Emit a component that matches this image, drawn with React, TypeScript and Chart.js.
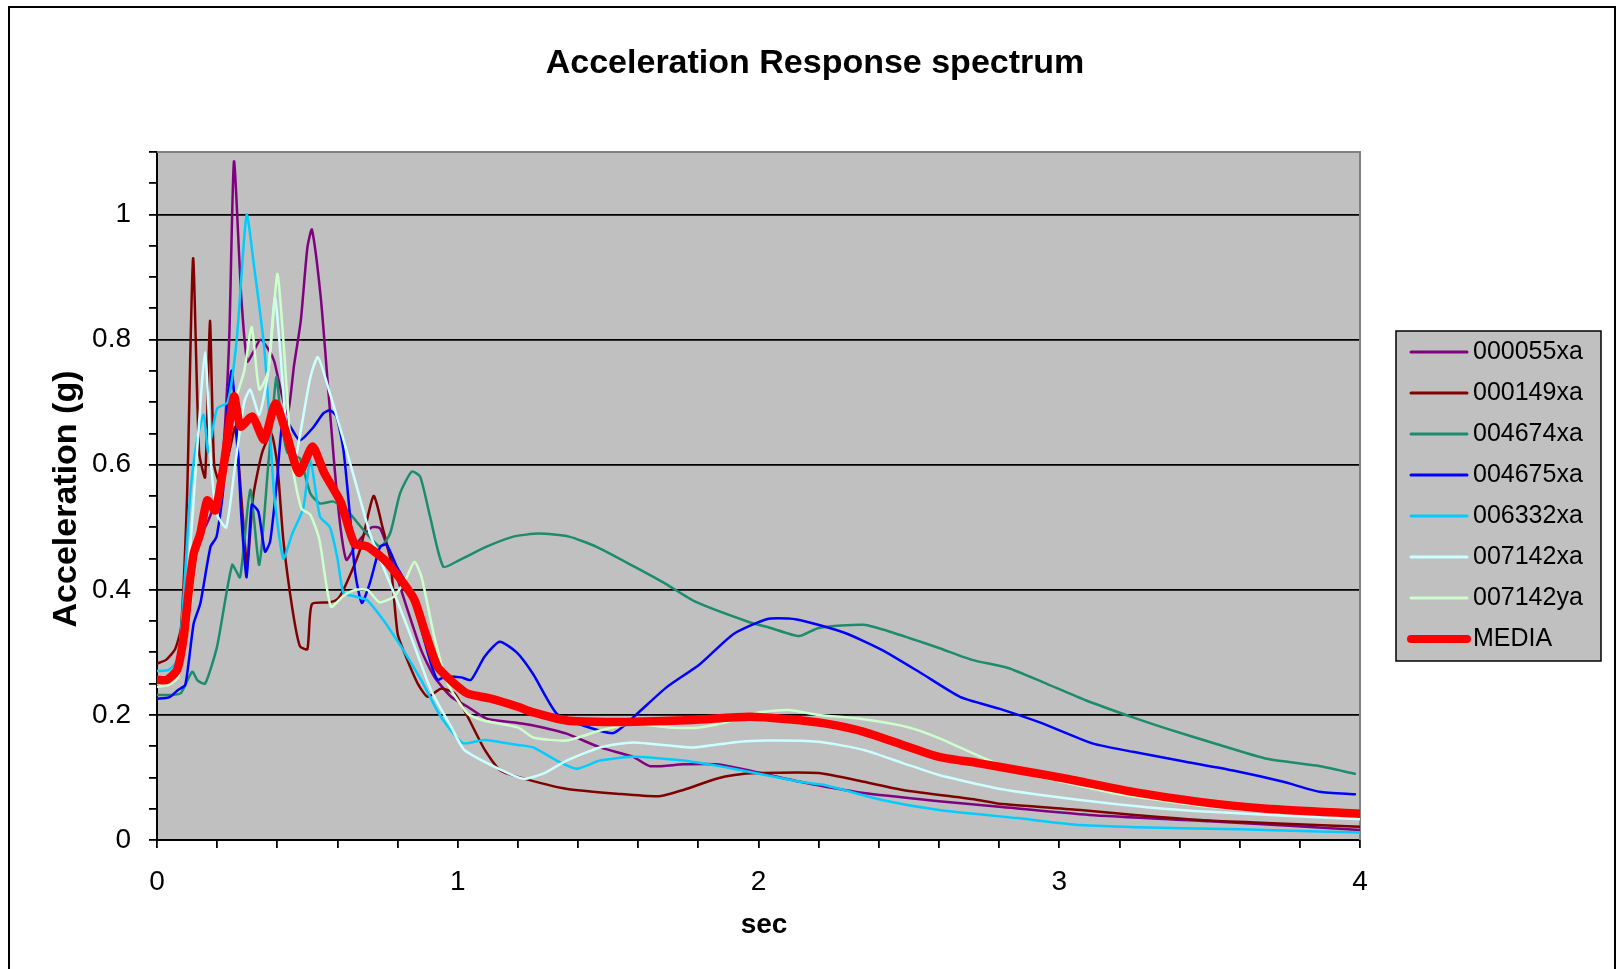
import { useEffect, useRef } from "react";
import { Chart, registerables } from "chart.js";

Chart.register(...registerables);

// Spectral acceleration (g) against period (s) for each record, plus the mean ("MEDIA").
const s000055xa: [number, number][] = [
  [0, 0.255], [0.04, 0.26], [0.07, 0.28], [0.1, 0.38], [0.13, 0.47], [0.17, 0.51], [0.2, 0.55],
  [0.22, 0.62], [0.24, 0.8], [0.256, 1.085], [0.28, 0.87], [0.3, 0.765], [0.32, 0.78], [0.344, 0.8],
  [0.37, 0.785], [0.39, 0.765], [0.433, 0.68], [0.456, 0.76], [0.478, 0.83], [0.5, 0.947],
  [0.515, 0.976], [0.544, 0.87], [0.567, 0.735], [0.589, 0.603], [0.61, 0.5], [0.63, 0.448],
  [0.664, 0.474], [0.714, 0.5], [0.742, 0.498], [0.775, 0.455], [0.833, 0.368], [0.878, 0.304],
  [0.922, 0.261], [0.978, 0.229], [1.033, 0.213], [1.096, 0.194], [1.2, 0.187], [1.251, 0.183],
  [1.362, 0.17], [1.473, 0.148], [1.583, 0.133], [1.639, 0.118], [1.75, 0.121], [1.861, 0.121],
  [1.97, 0.111], [2.138, 0.093], [2.35, 0.075], [2.6, 0.062], [2.8, 0.053], [3.1, 0.04],
  [3.5, 0.03], [4.0, 0.016],
];

const s000149xa: [number, number][] = [
  [0, 0.282], [0.03, 0.288], [0.06, 0.305], [0.08, 0.34], [0.1, 0.55], [0.12, 0.93], [0.14, 0.62],
  [0.16, 0.58], [0.176, 0.83], [0.19, 0.6], [0.21, 0.57], [0.24, 0.62], [0.26, 0.66], [0.28, 0.55],
  [0.3, 0.44], [0.32, 0.55], [0.35, 0.62], [0.38, 0.65], [0.4, 0.6], [0.42, 0.48], [0.45, 0.37],
  [0.475, 0.31], [0.5, 0.305], [0.515, 0.377], [0.575, 0.38], [0.6, 0.385], [0.62, 0.4],
  [0.675, 0.464], [0.72, 0.55], [0.75, 0.5], [0.775, 0.45], [0.8, 0.33], [0.822, 0.3],
  [0.867, 0.25], [0.9, 0.229], [0.944, 0.242], [0.99, 0.234], [1.033, 0.197], [1.09, 0.144],
  [1.14, 0.112], [1.2, 0.101], [1.36, 0.082], [1.53, 0.074], [1.67, 0.07], [1.75, 0.08],
  [1.86, 0.098], [1.92, 0.104], [2.0, 0.107], [2.2, 0.107], [2.35, 0.093], [2.48, 0.08],
  [2.73, 0.064], [2.8, 0.058], [3.07, 0.048], [3.25, 0.04], [3.5, 0.031], [3.75, 0.026], [4.0, 0.021],
];

const s004674xa: [number, number][] = [
  [0, 0.232], [0.05, 0.232], [0.08, 0.235], [0.117, 0.269], [0.135, 0.255], [0.16, 0.25],
  [0.2, 0.31], [0.25, 0.44], [0.276, 0.42], [0.31, 0.56], [0.34, 0.44], [0.37, 0.6], [0.397, 0.74],
  [0.411, 0.68], [0.433, 0.62], [0.475, 0.61], [0.51, 0.554], [0.542, 0.538], [0.586, 0.541],
  [0.63, 0.528], [0.686, 0.496], [0.742, 0.469], [0.775, 0.49], [0.808, 0.554], [0.847, 0.589],
  [0.875, 0.581], [0.908, 0.517], [0.952, 0.437], [1.007, 0.448], [1.096, 0.469], [1.185, 0.485],
  [1.27, 0.49], [1.37, 0.485], [1.46, 0.469], [1.587, 0.437], [1.69, 0.41], [1.79, 0.381],
  [1.965, 0.349], [2.04, 0.339], [2.135, 0.326], [2.2, 0.339], [2.35, 0.344], [2.45, 0.331],
  [2.6, 0.307], [2.71, 0.288], [2.83, 0.275], [2.947, 0.252], [3.09, 0.223], [3.245, 0.196],
  [3.357, 0.178], [3.52, 0.154], [3.69, 0.13], [3.855, 0.119], [3.983, 0.106],
];

const s004675xa: [number, number][] = [
  [0, 0.226], [0.04, 0.228], [0.07, 0.24], [0.094, 0.248], [0.122, 0.346], [0.144, 0.378],
  [0.178, 0.469], [0.198, 0.485], [0.22, 0.56], [0.235, 0.7], [0.248, 0.75], [0.265, 0.656],
  [0.28, 0.52], [0.298, 0.42], [0.315, 0.536], [0.337, 0.525], [0.359, 0.461], [0.376, 0.477],
  [0.398, 0.57], [0.42, 0.68], [0.445, 0.66], [0.475, 0.639], [0.52, 0.66], [0.553, 0.682],
  [0.575, 0.687], [0.597, 0.677], [0.62, 0.623], [0.642, 0.517], [0.659, 0.427], [0.681, 0.379],
  [0.708, 0.411], [0.742, 0.469], [0.764, 0.472], [0.797, 0.437], [0.841, 0.4], [0.867, 0.357],
  [0.911, 0.282], [0.933, 0.256], [0.956, 0.261], [1.011, 0.26], [1.044, 0.256], [1.089, 0.293],
  [1.139, 0.317], [1.196, 0.3], [1.251, 0.265], [1.329, 0.202], [1.417, 0.183], [1.517, 0.171],
  [1.583, 0.196], [1.694, 0.244], [1.805, 0.281], [1.916, 0.329], [2.027, 0.353], [2.1, 0.354],
  [2.16, 0.349], [2.288, 0.331], [2.41, 0.304], [2.54, 0.267], [2.67, 0.229], [2.8, 0.21],
  [2.935, 0.188], [3.113, 0.154], [3.245, 0.141], [3.42, 0.125], [3.578, 0.111], [3.745, 0.093],
  [3.866, 0.077], [3.983, 0.073],
];

const s006332xa: [number, number][] = [
  [0, 0.27], [0.04, 0.272], [0.07, 0.29], [0.09, 0.4], [0.11, 0.55], [0.13, 0.63], [0.155, 0.68],
  [0.17, 0.62], [0.183, 0.65], [0.2, 0.69], [0.235, 0.7], [0.265, 0.8], [0.298, 1.0], [0.322, 0.92],
  [0.356, 0.79], [0.37, 0.7], [0.39, 0.55], [0.42, 0.45], [0.45, 0.49], [0.486, 0.53],
  [0.51, 0.607], [0.542, 0.517], [0.575, 0.5], [0.6, 0.45], [0.62, 0.395], [0.653, 0.39],
  [0.697, 0.384], [0.752, 0.352], [0.797, 0.32], [0.811, 0.31], [0.878, 0.256], [0.944, 0.197],
  [1.017, 0.155], [1.089, 0.16], [1.2, 0.152], [1.251, 0.148], [1.329, 0.127], [1.395, 0.114],
  [1.473, 0.127], [1.583, 0.133], [1.75, 0.127], [1.916, 0.114], [2.138, 0.093], [2.225, 0.087],
  [2.41, 0.064], [2.6, 0.048], [2.86, 0.035], [3.07, 0.024], [3.3, 0.02], [3.6, 0.017], [4.0, 0.012],
];

const s007142xa: [number, number][] = [
  [0, 0.25], [0.04, 0.252], [0.07, 0.27], [0.1, 0.4], [0.13, 0.6], [0.16, 0.78], [0.18, 0.6],
  [0.2, 0.52], [0.23, 0.5], [0.26, 0.6], [0.29, 0.7], [0.31, 0.72], [0.34, 0.68], [0.37, 0.75],
  [0.392, 0.868], [0.41, 0.78], [0.43, 0.66], [0.455, 0.6], [0.48, 0.66], [0.51, 0.74],
  [0.535, 0.772], [0.575, 0.714], [0.62, 0.64], [0.664, 0.565], [0.708, 0.49], [0.752, 0.437],
  [0.797, 0.384], [0.841, 0.33], [0.911, 0.24], [0.978, 0.181], [1.022, 0.144], [1.144, 0.112],
  [1.218, 0.098], [1.284, 0.106], [1.362, 0.127], [1.473, 0.148], [1.583, 0.156], [1.783, 0.148],
  [1.916, 0.156], [2.027, 0.159], [2.2, 0.157], [2.35, 0.144], [2.48, 0.123], [2.6, 0.104],
  [2.8, 0.082], [3.07, 0.064], [3.3, 0.052], [3.5, 0.045], [4.0, 0.033],
];

const s007142ya: [number, number][] = [
  [0, 0.245], [0.04, 0.248], [0.07, 0.26], [0.1, 0.33], [0.13, 0.45], [0.16, 0.52], [0.2, 0.55],
  [0.23, 0.6], [0.26, 0.7], [0.29, 0.75], [0.315, 0.82], [0.34, 0.72], [0.37, 0.75], [0.4, 0.905],
  [0.42, 0.8], [0.45, 0.6], [0.48, 0.53], [0.51, 0.52], [0.54, 0.48], [0.578, 0.373], [0.62, 0.39],
  [0.66, 0.4], [0.7, 0.4], [0.74, 0.38], [0.79, 0.39], [0.83, 0.42], [0.856, 0.445], [0.88, 0.42],
  [0.922, 0.325], [0.967, 0.25], [1.033, 0.202], [1.085, 0.191], [1.2, 0.18], [1.251, 0.164],
  [1.362, 0.159], [1.473, 0.175], [1.583, 0.186], [1.7, 0.18], [1.805, 0.18], [1.916, 0.191],
  [2.0, 0.204], [2.1, 0.208], [2.2, 0.2], [2.35, 0.193], [2.5, 0.18], [2.6, 0.163], [2.73, 0.135],
  [2.86, 0.11], [3.0, 0.094], [3.2, 0.073], [3.5, 0.053], [3.75, 0.044], [4.0, 0.038],
];

const sMEDIA: [number, number][] = [
  [0, 0.256], [0.033, 0.256], [0.067, 0.272], [0.089, 0.325], [0.106, 0.4], [0.122, 0.458],
  [0.144, 0.49], [0.167, 0.543], [0.194, 0.527], [0.222, 0.6], [0.256, 0.709], [0.278, 0.661],
  [0.317, 0.677], [0.356, 0.64], [0.394, 0.698], [0.433, 0.645], [0.472, 0.587], [0.517, 0.629],
  [0.556, 0.587], [0.611, 0.54], [0.656, 0.474], [0.7, 0.469], [0.756, 0.448], [0.811, 0.416],
  [0.856, 0.384], [0.889, 0.336], [0.933, 0.277], [0.989, 0.25], [1.033, 0.234], [1.11, 0.226],
  [1.2, 0.213], [1.251, 0.204], [1.362, 0.191], [1.46, 0.189], [1.587, 0.189], [1.78, 0.192],
  [1.97, 0.197], [2.1, 0.193], [2.225, 0.186], [2.35, 0.173], [2.48, 0.152], [2.6, 0.133],
  [2.73, 0.123], [2.86, 0.112], [3.024, 0.098], [3.245, 0.077], [3.467, 0.061], [3.69, 0.05],
  [4.0, 0.042],
];

const seriesNames = ["000055xa", "000149xa", "004674xa", "004675xa", "006332xa", "007142xa", "007142ya", "MEDIA"];
const seriesData = [s000055xa, s000149xa, s004674xa, s004675xa, s006332xa, s007142xa, s007142ya, sMEDIA];
const seriesColors = ["#800080", "#800000", "#1c8c6c", "#0000ff", "#00ccff", "#ccffff", "#ccffcc", "#ff0000"];
const seriesWidths = [2.5, 2.5, 2.5, 2.5, 2.5, 2.5, 2.5, 8.5];

const yLabels = [0, 0.2, 0.4, 0.6, 0.8, 1];
const xLabels = [0, 1, 2, 3, 4];

const TITLE = "Acceleration Response spectrum";
const X_TITLE = "sec";
const Y_TITLE = "Acceleration (g)";

const FONT = '"Liberation Sans", Arial, sans-serif';

const isMajor = (v: number) => Math.abs(v / 0.2 - Math.round(v / 0.2)) < 1e-6;

export default function App() {
  const ref = useRef<HTMLCanvasElement>(null);

  useEffect(() => {
    const canvas = ref.current;
    if (!canvas) return;

    const datasets = seriesData.map((pts, i) => ({
      label: seriesNames[i],
      data: pts.map(([x, y]) => ({ x, y })),
      borderColor: seriesColors[i],
      backgroundColor: seriesColors[i],
      borderWidth: seriesWidths[i],
      pointRadius: 0,
      tension: 0.2,
      fill: false,
      order: seriesData.length - i,
      borderJoinStyle: "round" as const,
      borderCapStyle: "round" as const,
    }));

    const decor = {
      id: "decor",
      beforeDraw(chart: any) {
        const { ctx, width, height, chartArea: a } = chart;
        ctx.save();
        ctx.fillStyle = "#ffffff";
        ctx.fillRect(0, 0, width, height);
        ctx.strokeStyle = "#000000";
        ctx.lineWidth = 2;
        ctx.strokeRect(9, 7, 1606, height + 20);
        ctx.fillStyle = "#c0c0c0";
        ctx.fillRect(a.left, a.top, a.right - a.left, a.bottom - a.top);
        ctx.restore();
      },
      beforeDatasetsDraw(chart: any) {
        const { ctx, chartArea: a } = chart;
        ctx.save();
        ctx.strokeStyle = "#808080";
        ctx.lineWidth = 2;
        ctx.beginPath();
        ctx.moveTo(a.left, a.top);
        ctx.lineTo(a.right, a.top);
        ctx.lineTo(a.right, a.bottom);
        ctx.stroke();
        ctx.restore();
      },
      afterDraw(chart: any) {
        const { ctx } = chart;
        const xs = chart.scales.x;
        const ys = chart.scales.y;
        ctx.save();
        ctx.fillStyle = "#000000";
        ctx.textBaseline = "middle";

        // tick labels
        ctx.font = `28px ${FONT}`;
        ctx.textAlign = "right";
        yLabels.forEach((v) => ctx.fillText(String(v), 131, ys.getPixelForValue(v)));
        ctx.textAlign = "center";
        xLabels.forEach((v) => ctx.fillText(String(v), xs.getPixelForValue(v), 882));

        // titles
        ctx.font = `bold 34px ${FONT}`;
        ctx.fillText(TITLE, 815, 64);
        ctx.font = `bold 28px ${FONT}`;
        ctx.fillText(X_TITLE, 764, 925);
        ctx.save();
        ctx.translate(67, 499);
        ctx.rotate(-Math.PI / 2);
        ctx.font = `bold 34px ${FONT}`;
        ctx.fillText(Y_TITLE, 0, 0);
        ctx.restore();

        // legend
        const lx = 1396, ly = 331, lw = 205, lh = 330;
        ctx.fillStyle = "#c0c0c0";
        ctx.fillRect(lx, ly, lw, lh);
        ctx.strokeStyle = "#000000";
        ctx.lineWidth = 1.5;
        ctx.strokeRect(lx, ly, lw, lh);
        ctx.font = `25px ${FONT}`;
        ctx.textAlign = "left";
        seriesNames.forEach((name, i) => {
          const y = 352 + i * 41;
          ctx.strokeStyle = seriesColors[i];
          ctx.lineWidth = i === seriesNames.length - 1 ? 8 : 3;
          ctx.lineCap = "round";
          ctx.beginPath();
          ctx.moveTo(1411, y);
          ctx.lineTo(1467, y);
          ctx.stroke();
          ctx.fillStyle = "#000000";
          ctx.fillText(name, 1473, y);
        });
        ctx.restore();
      },
    };

    const chart = new Chart(canvas, {
      type: "line",
      data: { datasets },
      options: {
        responsive: false,
        animation: false,
        devicePixelRatio: 1,
        layout: { padding: { left: 117, right: 257, top: 152, bottom: 109 } },
        plugins: {
          legend: { display: false },
          title: { display: false },
          tooltip: { enabled: false },
        },
        scales: {
          x: {
            type: "linear",
            min: 0,
            max: 4,
            ticks: { stepSize: 0.2, display: false },
            grid: { drawOnChartArea: false, color: "#000", tickColor: "#000", tickLength: 8, lineWidth: 1.8 },
            border: { color: "#000", width: 2 },
            afterFit: (s: any) => {
              s.height = 20;
            },
          },
          y: {
            type: "linear",
            min: 0,
            max: 1.1,
            ticks: { stepSize: 0.05, display: false },
            grid: {
              color: (c: any) => (c.tick && isMajor(c.tick.value) ? "#000" : "rgba(0,0,0,0)"),
              tickColor: "#000",
              tickLength: 8,
              lineWidth: 1.8,
            },
            border: { color: "#000", width: 2 },
            afterFit: (s: any) => {
              s.width = 40;
            },
          },
        },
      } as any,
      plugins: [decor],
    });

    return () => chart.destroy();
  }, []);

  return (
    <div style={{ position: "absolute", left: 0, top: 0, width: 1617, height: 969 }}>
      <canvas ref={ref} width={1617} height={969} style={{ display: "block", width: 1617, height: 969 }} />
    </div>
  );
}
